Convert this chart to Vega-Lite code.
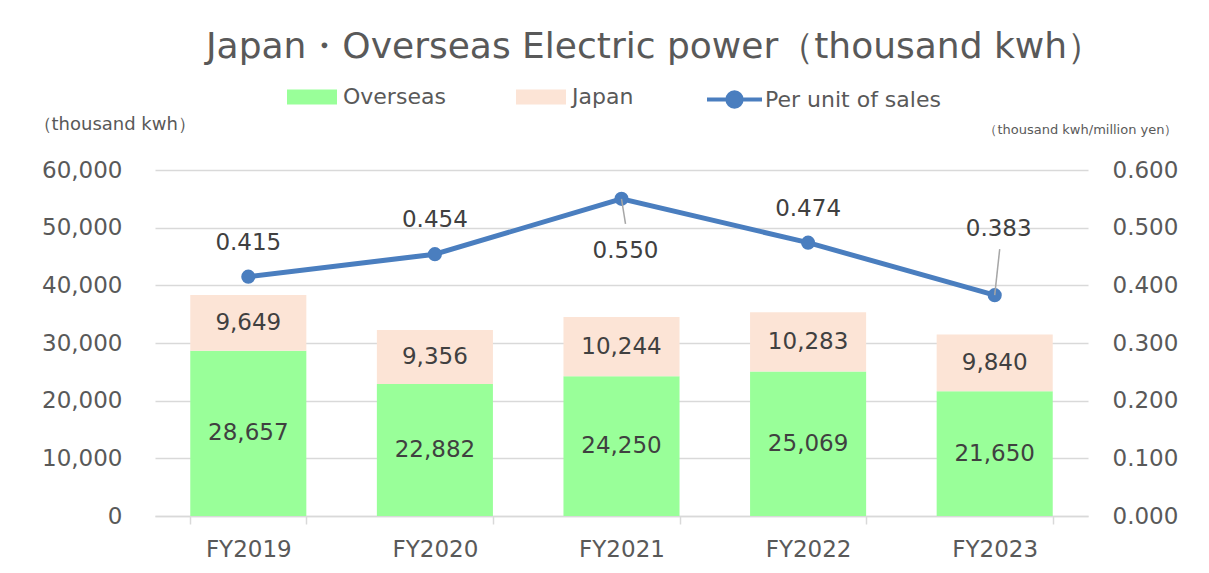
{
  "$schema": "https://vega.github.io/schema/vega-lite/v6.json",
  "width": 933,
  "height": 346,
  "autosize": {"type": "none"},
  "padding": {"left": 155, "top": 170, "right": 121, "bottom": 57},
  "background": "white",
  "title": {
    "text": "Japan・Overseas Electric power（thousand kwh）",
    "font": "DejaVu Sans",
    "fontSize": 36,
    "fontWeight": "normal",
    "color": "#595959",
    "anchor": "middle",
    "frame": "group",
    "dx": 33,
    "offset": 4
  },
  "config": {
    "view": {"stroke": null},
    "font": "DejaVu Sans",
    "axis": {"labelFont": "DejaVu Sans", "titleFont": "DejaVu Sans", "labelColor": "#595959", "titleColor": "#595959", "titleFontWeight": "normal"},
    "legend": {"labelFont": "DejaVu Sans", "labelColor": "#595959", "labelLimit": 400}
  },
  "datasets": {
    "bars": [
      {"year": "FY2019", "type": "Overseas", "value": 28657},
      {"year": "FY2019", "type": "Japan", "value": 9649},
      {"year": "FY2020", "type": "Overseas", "value": 22882},
      {"year": "FY2020", "type": "Japan", "value": 9356},
      {"year": "FY2021", "type": "Overseas", "value": 24250},
      {"year": "FY2021", "type": "Japan", "value": 10244},
      {"year": "FY2022", "type": "Overseas", "value": 25069},
      {"year": "FY2022", "type": "Japan", "value": 10283},
      {"year": "FY2023", "type": "Overseas", "value": 21650},
      {"year": "FY2023", "type": "Japan", "value": 9840}
    ],
    "line": [
      {"year": "FY2019", "ratio": 0.415},
      {"year": "FY2020", "ratio": 0.454},
      {"year": "FY2021", "ratio": 0.550},
      {"year": "FY2022", "ratio": 0.474},
      {"year": "FY2023", "ratio": 0.383}
    ]
  },
  "encoding": {
    "x": {
      "field": "year",
      "type": "nominal",
      "sort": null,
      "scale": {"paddingInner": 0.378, "paddingOuter": 0.189},
      "axis": {
        "title": null,
        "labelAngle": 0,
        "labelFontSize": 23,
        "labelPadding": 14,
        "domainColor": "#D9D9D9",
        "domainWidth": 1.5,
        "tickColor": "#D9D9D9",
        "tickWidth": 1.5,
        "tickSize": 8,
        "tickBand": "extent"
      }
    }
  },
  "layer": [
    {
      "data": {"name": "bars"},
      "transform": [
        {"stack": "value", "groupby": ["year"], "sort": [{"field": "type", "order": "descending"}], "as": ["y0", "y1"]},
        {"calculate": "(datum.y0 + datum.y1) / 2", "as": "mid"}
      ],
      "layer": [
        {
          "mark": {"type": "bar"},
          "encoding": {
            "y": {
              "field": "y1",
              "type": "quantitative",
              "scale": {"domain": [0, 60000]},
              "axis": {
                "values": [0, 10000, 20000, 30000, 40000, 50000, 60000],
                "format": ",.0f",
                "labelFontSize": 23,
                "labelPadding": 33,
                "ticks": false,
                "tickSize": 0,
                "domain": false,
                "grid": true,
                "gridColor": "#D9D9D9",
                "gridWidth": 1.5,
                "title": "（thousand kwh）",
                "titleFontSize": 18,
                "titleAngle": 0,
                "titleAlign": "left",
                "titleBaseline": "middle",
                "titleX": -122,
                "titleY": -46
              }
            },
            "y2": {"field": "y0"},
            "color": {
              "field": "type",
              "type": "nominal",
              "scale": {"domain": ["Overseas", "Japan"], "range": ["#99FF99", "#FCE4D6"]},
              "legend": {
                "title": null,
                "orient": "none",
                "direction": "horizontal",
                "legendX": 132,
                "legendY": -98,
                "padding": 0,
                "symbolType": "M-1,-0.3H1V0.3H-1Z",
                "symbolSize": 2500,
                "symbolStrokeWidth": 0,
                "labelFontSize": 22,
                "labelOffset": 6,
                "columnPadding": 70
              }
            }
          }
        },
        {
          "mark": {"type": "text", "fontSize": 23, "color": "#404040", "baseline": "middle"},
          "encoding": {
            "y": {
              "field": "mid",
              "type": "quantitative",
              "axis": {
                "values": [0, 10000, 20000, 30000, 40000, 50000, 60000],
                "format": ",.0f",
                "labelFontSize": 23,
                "labelPadding": 33,
                "ticks": false,
                "tickSize": 0,
                "domain": false,
                "grid": true,
                "gridColor": "#D9D9D9",
                "gridWidth": 1.5,
                "title": "（thousand kwh）",
                "titleFontSize": 18,
                "titleAngle": 0,
                "titleAlign": "left",
                "titleBaseline": "middle",
                "titleX": -122,
                "titleY": -46
              }
            },
            "text": {"field": "value", "type": "quantitative", "format": ","}
          }
        }
      ]
    },
    {
      "data": {"name": "line"},
      "layer": [
        {
          "mark": {"type": "line", "strokeWidth": 5},
          "encoding": {
            "y": {
              "field": "ratio",
              "type": "quantitative",
              "scale": {"domain": [0, 0.6]},
              "axis": {
                "orient": "right",
                "values": [0, 0.1, 0.2, 0.3, 0.4, 0.5, 0.6],
                "format": ".3f",
                "labelFontSize": 23,
                "labelPadding": 24,
                "ticks": false,
                "tickSize": 0,
                "domain": false,
                "grid": false,
                "title": "（thousand kwh/million yen）",
                "titleFontSize": 13,
                "titleAngle": 0,
                "titleAlign": "right",
                "titleBaseline": "middle",
                "titleX": 89,
                "titleY": -41
              }
            },
            "stroke": {
              "datum": "Per unit of sales",
              "type": "nominal",
              "scale": {"range": ["#4A7EBF"]},
              "legend": {
                "title": null,
                "orient": "none",
                "legendX": 550,
                "legendY": -100,
                "padding": 0,
                "symbolType": "M-1,0H1M-0.26,0A0.26,0.26 0 1,0 0.26,0A0.26,0.26 0 1,0 -0.26,0Z",
                "symbolSize": 3025,
                "symbolStrokeWidth": 4,
                "symbolFillColor": "#4A7EBF",
                "labelFontSize": 22,
                "labelOffset": 1
              }
            }
          }
        },
        {
          "mark": {"type": "point", "filled": true, "size": 200, "color": "#4A7EBF", "opacity": 1},
          "encoding": {"y": {"field": "ratio", "type": "quantitative"}}
        },
        {
          "transform": [{"filter": "datum.year == 'FY2021'"}],
          "mark": {"type": "rule", "color": "#A6A6A6", "strokeWidth": 1.5, "yOffset": 0, "y2Offset": 25, "x2Offset": 4},
          "encoding": {
            "y": {"field": "ratio", "type": "quantitative"},
            "y2": {"field": "ratio"},
            "x2": {"field": "year"}
          }
        },
        {
          "transform": [{"filter": "datum.year == 'FY2023'"}],
          "mark": {"type": "rule", "color": "#A6A6A6", "strokeWidth": 1.5, "yOffset": 0, "y2Offset": -46, "x2Offset": 5},
          "encoding": {
            "y": {"field": "ratio", "type": "quantitative"},
            "y2": {"field": "ratio"},
            "x2": {"field": "year"}
          }
        },
        {
          "transform": [{"filter": "datum.year != 'FY2021' && datum.year != 'FY2023'"}],
          "mark": {"type": "text", "fontSize": 23, "color": "#404040", "baseline": "middle", "dy": -34},
          "encoding": {
            "y": {"field": "ratio", "type": "quantitative"},
            "text": {"field": "ratio", "type": "quantitative", "format": ".3f"}
          }
        },
        {
          "transform": [{"filter": "datum.year == 'FY2021'"}],
          "mark": {"type": "text", "fontSize": 23, "color": "#404040", "baseline": "middle", "dy": 52, "dx": 4},
          "encoding": {
            "y": {"field": "ratio", "type": "quantitative"},
            "text": {"field": "ratio", "type": "quantitative", "format": ".3f"}
          }
        },
        {
          "transform": [{"filter": "datum.year == 'FY2023'"}],
          "mark": {"type": "text", "fontSize": 23, "color": "#404040", "baseline": "middle", "dy": -66, "dx": 4},
          "encoding": {
            "y": {"field": "ratio", "type": "quantitative"},
            "text": {"field": "ratio", "type": "quantitative", "format": ".3f"}
          }
        }
      ]
    }
  ],
  "resolve": {"scale": {"y": "independent"}}
}
